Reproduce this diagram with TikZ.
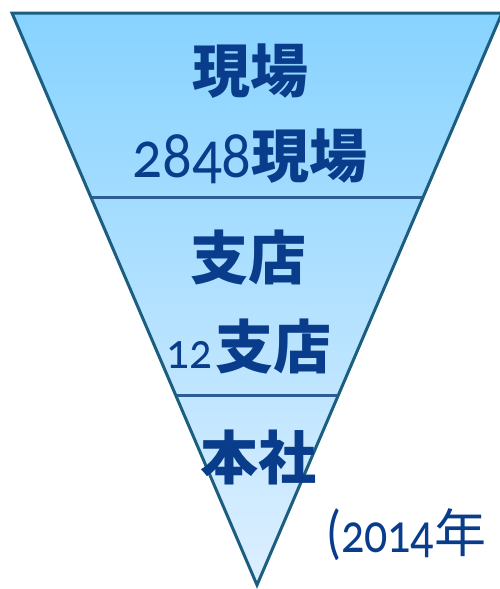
\documentclass[tikz,border=0pt]{standalone}
\usepackage{fontspec}
\newfontfamily\cjk{Noto Sans CJK JP}
\newfontfamily\numfont{Carlito}[Numbers=OldStyle, FakeStretch=0.88]
\newfontfamily\numfontb{Carlito}[Numbers=OldStyle, FakeStretch=0.82]
\definecolor{topfill}{HTML}{87D3FF}
\definecolor{botfill}{HTML}{DDEFFF}
\definecolor{edgec}{HTML}{1B5E80}
\definecolor{divc}{HTML}{2E5C94}
\definecolor{txtc}{HTML}{0A3C8C}
\tikzset{
  lbl/.style={text=txtc, inner sep=0pt, anchor=center},
  divline/.style={draw=divc, line width=3pt},
}
\begin{document}
\begin{tikzpicture}[x=1pt,y=-1pt]
\useasboundingbox (0,0) rectangle (500,589);
\coordinate (tl) at (12,13);
\coordinate (tr) at (502,13);
\coordinate (apex) at (257,585);
\coordinate (d1l) at (90.8,197);
\coordinate (d1r) at (423.2,197);
\coordinate (d2l) at (175.6,395);
\coordinate (d2r) at (338.4,395);
\shade[top color=topfill, bottom color=botfill] (tl) -- (tr) -- (apex) -- cycle;
\draw[divline] (d1l) -- (d1r);
\draw[divline] (d2l) -- (d2r);
\draw[draw=edgec, line width=3pt] (tl) -- (tr) -- (apex) -- cycle;
\node[lbl] (a1) at (250,71) {\fontsize{58}{60}\cjk\bfseries 現場};
\node[lbl] (a2) at (250,156) {\fontsize{67}{69}\numfont 2848\fontsize{58}{60}\cjk\bfseries 現場};
\node[lbl] (b1) at (248,258) {\fontsize{58}{60}\cjk\bfseries 支店};
\node[lbl] (b2) at (249,347) {\fontsize{51}{53}\numfont 12\hspace{3pt}\fontsize{58}{60}\cjk\bfseries 支店};
\node[lbl] (c1) at (258,457) {\fontsize{58}{60}\cjk\bfseries 本社};
\node[lbl, anchor=west] (note) at (326,535) {\fontsize{60}{62}\numfontb (\fontsize{56}{58}\numfontb 2014\fontsize{52}{54}\cjk 年};
\end{tikzpicture}
\end{document}
